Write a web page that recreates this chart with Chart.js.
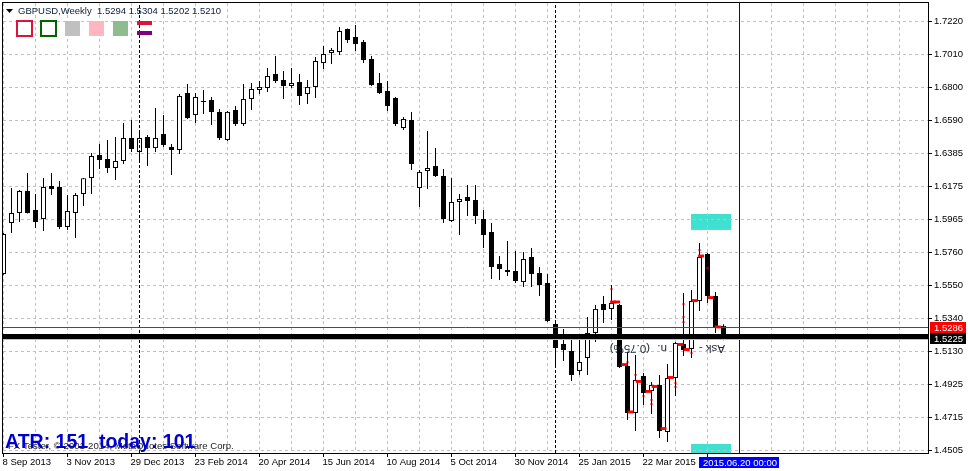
<!DOCTYPE html>
<html>
<head>
<meta charset="utf-8">
<title>GBPUSD Weekly</title>
<script src="https://cdn.jsdelivr.net/npm/chart.js@4"></script>
<style>
  html, body { margin: 0; padding: 0; background: #fff; }
  canvas { display: block; }
</style>
</head>
<body>
<canvas id="priceChart" width="968" height="471"></canvas>
<script>
// Weekly candles, oldest first
const opens = [1.5622,1.5945,1.6008,1.6147,1.6027,1.5970,1.6179,1.6173,1.5920,1.6008,1.6128,1.6230,1.6375,1.6350,1.6293,1.6337,
  1.6483,1.6394,1.6489,1.6419,1.6508,1.6426,1.6407,1.6768,1.6628,1.6717,1.6723,1.6648,1.6470,1.6660,1.6571,1.6730,
  1.6787,1.6799,1.6888,1.6850,1.6812,1.6837,1.6761,1.6806,1.6957,1.7021,1.7027,1.7173,1.7122,1.7090,1.6983,1.6831,
  1.6780,1.6736,1.6546,1.6597,1.6166,1.6274,1.6306,1.6242,1.5958,1.6078,1.6109,1.6090,1.5970,1.5888,1.5685,1.5647,
  1.5641,1.5571,1.5730,1.5628,1.5565,1.5306,1.5179,1.5135,1.5008,1.5091,1.5249,1.5432,1.5401,1.5426,1.5040,1.4743,
  1.4977,1.4882,1.4920,1.4622,1.4964,1.5179,1.5148,1.5451,1.5749,1.5483,1.5294];
const highs = [1.5882,1.6166,1.6154,1.6261,1.6128,1.6230,1.6261,1.6211,1.6122,1.6135,1.6230,1.6388,1.6445,1.6470,1.6489,1.6578,
  1.6597,1.6514,1.6502,1.6673,1.6628,1.6445,1.6761,1.6825,1.6768,1.6787,1.6742,1.6666,1.6654,1.6685,1.6825,1.6831,
  1.6844,1.6926,1.7002,1.6907,1.6926,1.6888,1.6850,1.6995,1.7065,1.7052,1.7185,1.7176,1.7198,1.7103,1.7002,1.6894,
  1.6844,1.6742,1.6616,1.6648,1.6280,1.6527,1.6419,1.6287,1.6230,1.6128,1.6185,1.6185,1.6027,1.5945,1.5736,1.5831,
  1.5768,1.5761,1.5787,1.5666,1.5622,1.5312,1.5274,1.5217,1.5223,1.5350,1.5426,1.5483,1.5552,1.5432,1.5129,1.5110,
  1.4996,1.4939,1.4983,1.5053,1.5192,1.5502,1.5521,1.5818,1.5755,1.5508,1.5304];
const lows = [1.5618,1.5882,1.5951,1.6005,1.5913,1.5894,1.6122,1.5907,1.5901,1.5850,1.6052,1.6128,1.6287,1.6261,1.6217,1.6318,
  1.6394,1.6337,1.6306,1.6394,1.6426,1.6249,1.6382,1.6603,1.6578,1.6635,1.6565,1.6470,1.6464,1.6559,1.6559,1.6660,
  1.6761,1.6774,1.6831,1.6730,1.6799,1.6692,1.6698,1.6736,1.6920,1.6951,1.7008,1.7084,1.7033,1.6957,1.6812,1.6761,
  1.6654,1.6559,1.6533,1.6280,1.6046,1.6160,1.6236,1.5945,1.5951,1.5869,1.5989,1.5939,1.5787,1.5590,1.5584,1.5609,
  1.5565,1.5540,1.5540,1.5483,1.5318,1.5034,1.5072,1.4945,1.4983,1.4983,1.5192,1.5312,1.5331,1.5027,1.4698,1.4628,
  1.4793,1.4736,1.4584,1.4559,1.4850,1.5103,1.5091,1.5388,1.5439,1.5249,1.5202];
const closes = [1.5875,1.6008,1.6147,1.6008,1.5951,1.6173,1.6160,1.5920,1.6021,1.6122,1.6228,1.6369,1.6344,1.6293,1.6337,1.6483,
  1.6413,1.6483,1.6419,1.6483,1.6438,1.6407,1.6749,1.6609,1.6742,1.6711,1.6648,1.6483,1.6648,1.6571,1.6730,1.6793,
  1.6806,1.6875,1.6844,1.6812,1.6831,1.6749,1.6806,1.6970,1.7014,1.7040,1.7160,1.7103,1.7078,1.6977,1.6818,1.6768,
  1.6685,1.6571,1.6603,1.6318,1.6268,1.6293,1.6242,1.5970,1.6078,1.6097,1.6084,1.5989,1.5869,1.5666,1.5654,1.5635,
  1.5578,1.5717,1.5622,1.5552,1.5325,1.5154,1.5141,1.4983,1.5065,1.5249,1.5401,1.5394,1.5439,1.5034,1.4743,1.4951,
  1.4869,1.4920,1.4628,1.4964,1.5186,1.5141,1.5451,1.5730,1.5483,1.5287,1.5210];

// Red markers of the indicator, only on the last bars
const redDashIndex = [76.2,76.7,77.6,78.4,79.4,80.6,81.4,82.5,83.4,84.6,85.4,86.4,87.2,88.4,89.3];
const redDashPrice = [1.5445,1.5445,1.5049,1.4749,1.4942,1.4879,1.4910,1.4644,1.4967,1.5176,1.5144,1.5454,1.5736,1.5473,1.5287];
const redTickIndex = [76,78,79,80,81,81,84,84,85,85,85,86,87,88];
const redTickPrice = [1.5527,1.5065,1.4983,1.4850,1.4825,1.4799,1.4932,1.4907,1.5432,1.5350,1.5318,1.5122,1.5774,1.5660];

// Axis ticks
const priceTickValues = [1.72200,1.70112,1.68023,1.65935,1.63846,1.61758,1.59669,1.57581,1.55492,1.53404,1.51315,1.49227,1.47138,1.45050];
const priceTickLabels = ['1.7220','1.7010','1.6800','1.6590','1.6385','1.6175','1.5965','1.5760','1.5550','1.5340','1.5130','1.4925','1.4715','1.4505'];
const dateTickLabels = ['8 Sep 2013','3 Nov 2013','29 Dec 2013','23 Feb 2014','20 Apr 2014','15 Jun 2014','10 Aug 2014','5 Oct 2014','30 Nov 2014','25 Jan 2015','22 Mar 2015'];
const gridBarIndex = [0,4,8,12,16,20,24,28,32,36,40,44,48,52,56,60,64,68,72,76,80,84,88,92,96,100,104,108,112];

// Horizontal and vertical levels
const bidLevel = 1.52075, askLevel = 1.52834, blackLevel = 1.52265;
const periodBars = [17, 69];
const cursorBar = 92;

// Turquoise zones [first bar, last bar, top price, bottom price]
const zoneTop = [85.94, 90.94, 1.6002, 1.5901];
const zoneBottom = [85.94, 90.94, 1.4546, 1.4489];

const xMin = -0.0625, xMax = 115.5625;
const yMin = 1.44892, yMax = 1.73371;

const uiFont = '"Liberation Sans", Arial, sans-serif';

const candleBodies = opens.map((o, i) => ({ x: i, y: [o, closes[i]] }));
const candleWicks = opens.map((o, i) => ({ x: i, y: [lows[i], highs[i]] }));
const bodyColors = opens.map((o, i) => closes[i] >= o ? '#ffffff' : '#000000');

function level(y) {
    return [{ x: xMin, y: y }, { x: xMax, y: y }];
}
function vertical(x) {
    return [{ x: x, y: yMin }, { x: x, y: yMax }];
}
function lineSet(data, color, width, order, dash) {
    return {
        type: 'line', data: data, borderColor: color, borderWidth: width, order: order,
        pointRadius: 0, borderDash: dash || [], tension: 0, fill: false
    };
}
// keep the axis where it is, labels may hang over the plot edges
function noScalePadding(scale) {
    scale.paddingTop = 0;
    scale.paddingBottom = 0;
    scale.paddingLeft = 0;
    scale.paddingRight = 0;
}

// Things Chart.js has no dataset for: zones under the grid, frame and texts on top
const chartExtras = {
    id: 'chartExtras',
    beforeDraw(chart) {
        const ctx = chart.ctx, xs = chart.scales.x, ys = chart.scales.y;
        ctx.save();
        ctx.fillStyle = '#40E0D0';
        [zoneTop, zoneBottom].forEach(z => {
            const left = xs.getPixelForValue(z[0]), right = xs.getPixelForValue(z[1]);
            const top = ys.getPixelForValue(z[2]), bottom = ys.getPixelForValue(z[3]);
            ctx.fillRect(left, top, right - left, bottom - top);
        });
        ctx.restore();
    },
    afterDraw(chart) {
        const ctx = chart.ctx;
        ctx.save();

        // frame
        ctx.strokeStyle = '#000';
        ctx.lineWidth = 1;
        ctx.strokeRect(2.5, 2.5, 926, 451);

        // header
        ctx.fillStyle = '#000';
        ctx.beginPath();
        ctx.moveTo(6, 9); ctx.lineTo(13, 9); ctx.lineTo(9.5, 13); ctx.closePath();
        ctx.fill();
        ctx.font = '9.5px ' + uiFont;
        ctx.textBaseline = 'alphabetic';
        ctx.textAlign = 'left';
        ctx.fillStyle = '#0b1b3a';
        ctx.fillText('GBPUSD,Weekly', 18, 14);
        ctx.fillText('1.5294 1.5304 1.5202 1.5210', 97, 14);

        // legend boxes
        ctx.lineWidth = 2;
        ctx.strokeStyle = '#DC143C';
        ctx.strokeRect(17, 21, 15, 15);
        ctx.strokeStyle = '#006400';
        ctx.strokeRect(41, 21, 15, 15);
        ctx.fillStyle = '#C0C0C0';
        ctx.fillRect(65, 21, 15, 15);
        ctx.fillStyle = '#FFB6C1';
        ctx.fillRect(89, 21, 15, 15);
        ctx.fillStyle = '#8FBC8F';
        ctx.fillRect(113, 21, 15, 15);
        ctx.fillStyle = '#DC143C';
        ctx.fillRect(137, 21, 15, 4);
        ctx.fillStyle = '#800080';
        ctx.fillRect(137, 31, 15, 4);

        // upside down label next to the last bars
        ctx.fillStyle = '#1c2433';
        ctx.font = '11.5px ' + uiFont;
        ctx.save();
        ctx.translate(725, 344);
        ctx.rotate(Math.PI);
        ctx.textBaseline = 'top';
        ctx.fillText('Ask -', 0, -10);
        ctx.fillText('n.', 58, -10);
        ctx.fillText('(0.75%)', 75, -10);
        ctx.restore();

        // copyright and ATR
        ctx.fillStyle = '#1a1a1a';
        ctx.font = '9.6px ' + uiFont;
        ctx.fillText('FX Tester, © 2001-2014, MetaQuotes Software Corp.', 8, 449);
        ctx.fillStyle = '#0000CD';
        ctx.font = 'bold 19.5px ' + uiFont;
        ctx.fillText('ATR: 151  today: 101', 5, 448);

        // price tags on the right
        ctx.font = '9.5px ' + uiFont;
        ctx.fillStyle = '#ff0000';
        ctx.fillRect(930, 322, 36, 11);
        ctx.fillStyle = '#000000';
        ctx.fillRect(930, 333, 36, 11);
        ctx.fillStyle = '#ffffff';
        ctx.fillText('1.5286', 934, 331);
        ctx.fillText('1.5225', 934, 342);

        // crosshair date box
        ctx.fillStyle = '#0000ff';
        ctx.fillRect(699, 457, 80, 11);
        ctx.fillStyle = '#ffffff';
        ctx.fillText('2015.06.20 00:00', 703, 466);

        ctx.restore();
    }
};

const priceCtx = document.getElementById('priceChart').getContext('2d');
const priceChart = new Chart(priceCtx, {
    type: 'bar',
    data: {
        datasets: [
            lineSet(level(blackLevel), '#000000', 5, 0),
            lineSet(level(askLevel), '#ff0000', 1, 1),
            lineSet(level(bidLevel), '#c0c0c0', 1, 2),
            {
                label: 'red ticks', order: 3, barThickness: 3, backgroundColor: '#ff0000', grouped: false, inflateAmount: 0,
                data: redTickIndex.map((x, i) => ({ x: x, y: [redTickPrice[i] - 0.0003, redTickPrice[i] + 0.0003] }))
            },
            {
                label: 'red dashes', order: 4, barThickness: 6, backgroundColor: '#ff0000', grouped: false, inflateAmount: 0,
                data: redDashIndex.map((x, i) => ({ x: x, y: [redDashPrice[i] - 0.0009, redDashPrice[i] + 0.0009] }))
            },
            lineSet(vertical(periodBars[0]), '#000000', 1, 5, [3, 2]),
            lineSet(vertical(periodBars[1]), '#000000', 1, 5, [3, 2]),
            lineSet(vertical(cursorBar), '#0000CD', 1, 5),
            {
                label: 'bodies', order: 6, data: candleBodies, barThickness: 5, grouped: false, inflateAmount: 0,
                backgroundColor: bodyColors, borderColor: '#000000', borderWidth: 1, borderSkipped: false
            },
            {
                label: 'wicks', order: 7, data: candleWicks, barThickness: 1, grouped: false, inflateAmount: 0,
                backgroundColor: '#000000'
            }
        ]
    },
    options: {
        responsive: false,
        animation: false,
        layout: { padding: { left: 3, top: 3, right: 0, bottom: 0 } },
        plugins: { legend: { display: false }, tooltip: { enabled: false } },
        scales: {
            x: {
                type: 'linear',
                offset: false,
                min: xMin,
                max: xMax,
                afterFit(scale) { scale.height = 18; noScalePadding(scale); },
                afterBuildTicks(scale) { scale.ticks = gridBarIndex.map(v => ({ value: v })); },
                border: { display: false, dash: [3, 3] },
                grid: {
                    offset: false,
                    color: '#c0c0c0',
                    tickLength: 4,
                    tickColor: ctx => (ctx.index % 2 === 0 && ctx.index <= 22) ? '#000000' : 'rgba(0,0,0,0)'
                },
                ticks: {
                    autoSkip: false,
                    maxRotation: 0,
                    align: 'start',
                    padding: 0,
                    labelOffset: -1,
                    color: '#000000',
                    font: { family: uiFont, size: 9.5 },
                    callback: (v, i) => (i % 2 === 0 && dateTickLabels[i / 2]) || ''
                }
            },
            y: {
                type: 'linear',
                position: 'right',
                min: yMin,
                max: yMax,
                afterFit(scale) { scale.width = 40; noScalePadding(scale); },
                afterBuildTicks(scale) { scale.ticks = priceTickValues.map(v => ({ value: v })); },
                border: { display: false, dash: [3, 3] },
                grid: { color: '#c0c0c0', tickLength: 4, tickColor: '#000000' },
                ticks: {
                    autoSkip: false,
                    padding: 2,
                    color: '#000000',
                    font: { family: uiFont, size: 9.5 },
                    callback: (v, i) => priceTickLabels[i]
                }
            }
        }
    },
    plugins: [chartExtras]
});
</script>
</body>
</html>
